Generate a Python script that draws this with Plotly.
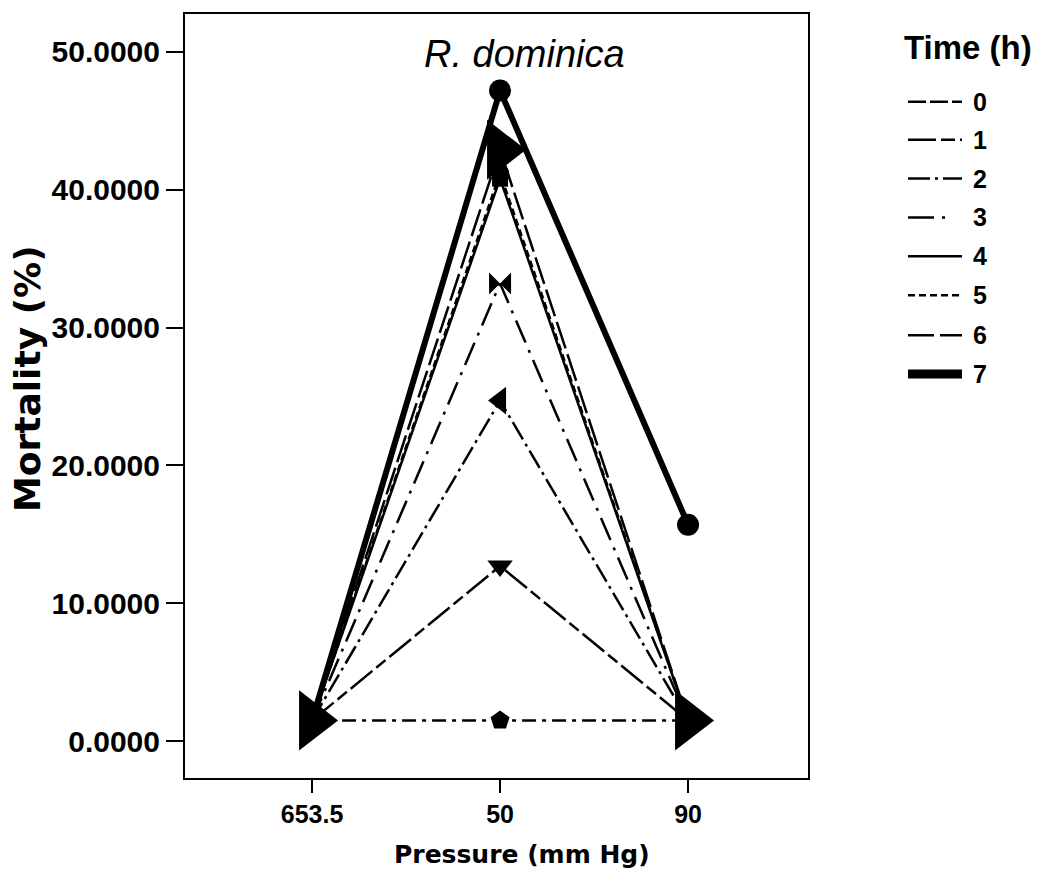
import plotly.graph_objects as go

# ---- data ----
pressure = ["653.5", "50", "90"]
times = ["0", "1", "2", "3", "4", "5", "6", "7"]
mort_t0 = [1.5, 1.5, 1.5]
mort_t1 = [1.5, 12.7, 1.5]
mort_t2 = [1.5, 24.7, 1.5]
mort_t3 = [1.5, 33.2, 1.5]
mort_t4 = [1.5, 40.8, 1.5]
mort_t5 = [1.5, 41.2, 1.5]
mort_t6 = [1.5, 42.9, 1.5]
mort_t7 = [1.5, 47.2, 15.7]
series = [mort_t0, mort_t1, mort_t2, mort_t3, mort_t4, mort_t5, mort_t6, mort_t7]
y_ticks = [0, 10, 20, 30, 40, 50]

# ---- styles ----
dashes = ["14px,6px,4px,6px", "28px,5px,12px,5px", "20px,5px,3px,5px",
          "24px,8px,3px,8px", "solid", "7px,4px", "28px,6px", "solid"]
legend_dashes = ["18px,4px", "28px,5px,14px,5px", "22px,5px,3px,5px",
                 "26px,8px,3px,30px", "solid", "7px,4px", "26px,6px", "solid"]
widths = [2.5, 2.5, 2.5, 2.5, 2.5, 2.5, 2.5, 6]
symbols = ["pentagon", "triangle-down", "triangle-left", "bowtie",
           "square", "circle", "triangle-right", "circle"]
sizes = [20, 22, 24, 22, 16, 18, 52, 22]

# page body has an 8px margin; work in screenshot pixel coordinates
OFF = 8
W, H = 1039 - OFF, 884 - OFF
BOX_L, BOX_R, BOX_T, BOX_B = 185, 808, 12, 778
L = BOX_L - OFF
T = BOX_T - OFF
R = W - (BOX_R - OFF)
B = H - (BOX_B - OFF)
PW, PH = W - L - R, H - T - B


def px(x):
    return (x - OFF - L) / PW


def py(y):
    return (H - B - (y - OFF)) / PH


fig = go.Figure()
for i, vals in enumerate(series):
    fig.add_trace(go.Scatter(
        x=pressure, y=vals, mode="lines+markers", name=times[i],
        line=dict(color="black", width=widths[i], dash=dashes[i]),
        marker=dict(symbol=symbols[i], size=sizes[i], color="black"),
        showlegend=False,
    ))

shapes = []
annotations = []
bold_font = "Liberation Sans, Arial, sans-serif"
# manual legend
leg_y = [100, 138, 177, 216, 255, 294, 334, 373]
for i, t in enumerate(times):
    shapes.append(dict(type="line", xref="paper", yref="paper",
                       x0=px(908), x1=px(962), y0=py(leg_y[i]), y1=py(leg_y[i]),
                       line=dict(color="black", width=9 if i == 7 else 2.5,
                                 dash=legend_dashes[i])))
    annotations.append(dict(text=t, xref="paper", yref="paper",
                            x=px(971), y=py(leg_y[i]), xanchor="left", yanchor="middle",
                            showarrow=False,
                            font=dict(family=bold_font, size=25, color="black",
                                      weight="bold")))
annotations.append(dict(text="Time (h)", xref="paper", yref="paper",
                        x=px(902), y=py(46), xanchor="left", yanchor="middle",
                        showarrow=False,
                        font=dict(family=bold_font, size=33, color="black",
                                  weight="bold")))
annotations.append(dict(text="<i>R. dominica</i>", xref="paper", yref="paper",
                        x=px(524), y=py(52), xanchor="center", yanchor="middle",
                        showarrow=False,
                        font=dict(family="Liberation Sans, Arial, sans-serif", size=38,
                                  color="black")))
annotations.append(dict(text="Pressure (mm Hg)", xref="paper", yref="paper",
                        x=px(522), y=py(855), xanchor="center", yanchor="middle",
                        showarrow=False,
                        font=dict(family="DejaVu Sans, Verdana, sans-serif", size=25,
                                  color="black", weight="bold")))
annotations.append(dict(text="Mortality (%)", xref="paper", yref="paper",
                        x=px(27), y=py(378), xanchor="center", yanchor="middle",
                        textangle=-90, showarrow=False,
                        font=dict(family="DejaVu Sans, Verdana, sans-serif", size=36,
                                  color="black", weight="bold")))

fig.update_layout(
    width=W, height=H,
    margin=dict(l=L, r=R, t=T, b=B, pad=0),
    paper_bgcolor="white", plot_bgcolor="white",
    shapes=shapes, annotations=annotations,
    showlegend=False,
)
fig.update_xaxes(
    type="category", categoryorder="array", categoryarray=pressure,
    range=[-0.676, 2.638],
    showline=True, linecolor="black", linewidth=2, mirror=True,
    ticks="outside", ticklen=13, tickwidth=2, tickcolor="black",
    showgrid=False, zeroline=False,
    tickfont=dict(family=bold_font, size=25, color="black", weight="bold"),
)
fig.update_yaxes(
    range=[-2.68, 52.75], tickvals=y_ticks, tickformat=".4f",
    showline=True, linecolor="black", linewidth=2, mirror=True,
    ticks="outside", ticklen=17, tickwidth=2, tickcolor="black",
    showgrid=False, zeroline=False,
    tickfont=dict(family=bold_font, size=30, color="black", weight="bold"),
)

fig.write_html("out.html")
